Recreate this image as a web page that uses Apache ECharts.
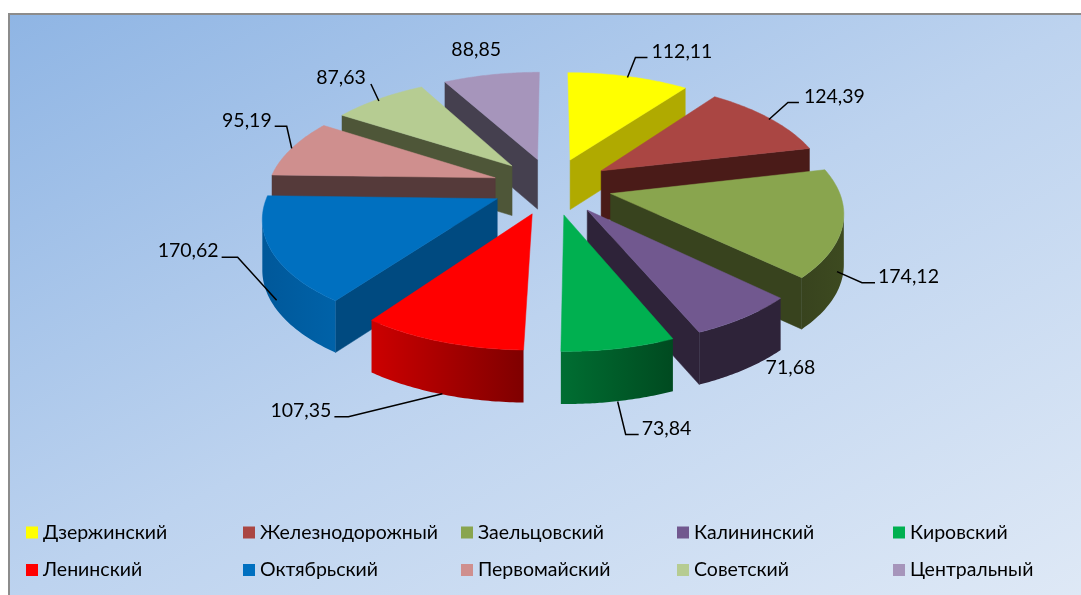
<!DOCTYPE html>
<html><head><meta charset="utf-8">
<style>html,body{margin:0;padding:0;background:#fff}#c{width:1081px;height:595px}</style>
<script src="https://cdn.jsdelivr.net/npm/echarts@6/dist/echarts.min.js"></script>
</head><body><div id="c"></div>
<script>
var categories = ['Дзержинский','Железнодорожный','Заельцовский','Калининский','Кировский','Ленинский','Октябрьский','Первомайский','Советский','Центральный'];
var values = [112.11,124.39,174.12,71.68,73.84,107.35,170.62,95.19,87.63,88.85];
var valueLabels = ['112,11','124,39','174,12','71,68','73,84','107,35','170,62','95,19','87,63','88,85'];

// styles: top face, radial wall, rim gradient (left to right)
var topColors  = ['#ffff00','#aa4643','#89a54e','#71588f','#00b050','#ff0000','#0070c0','#cf8f8e','#b6cc92','#a695bb'];
var wallColors = ['#b0aa00','#4a1b18','#38431e','#2e2339','#006b30','#a00000','#004a80','#553a3a','#4e5638','#45404f'];
var rimColors  = [['#b0aa00','#b0aa00'],['#4a1b18','#4a1b18'],['#38431e','#3d4a20'],['#2e2339','#2e2339'],['#006e32','#004a20'],['#cc0000','#7f0000'],['#00589a','#0062a8'],['#553a3a','#553a3a'],['#4e5638','#4e5638'],['#45404f','#45404f']];
var paintOrder = [9,0,8,1,7,2,6,3,5,4];

// projection of the tilted disc
var CX=552, CY=186, R=227, EXPLODE=60, TILT=0.472, PERSP=0.000644, H=50;
function project(X,Y,down){
  var f=1/(1+PERSP*Y);
  return [CX+X*f, CY-TILT*Y*f+(down?H*Math.pow(f,0.25):0)];
}
var total=values.reduce(function(a,b){return a+b;},0);
function startAngle(i){var s=0;for(var k=0;k<i;k++)s+=values[k];return s/total*2*Math.PI;}
function pt(i,a,r,down){
  var m=(startAngle(i)+startAngle(i)+values[i]/total*2*Math.PI)/2;
  var ox=EXPLODE*Math.sin(m), oy=EXPLODE*Math.cos(m);
  return project(ox+r*Math.sin(a), oy+r*Math.cos(a), down);
}
function area(p){var s=0;for(var i=0;i<p.length;i++){var q=p[(i+1)%p.length];s+=p[i][0]*q[1]-q[0]*p[i][1];}return s;}

// label layout: offset of leader and text from each slice's mid-rim point
var labelLayout = [
 {s:[-1,1], e:[7,-19], f:[19,-19], t:[23,-25],a:'left'},
 {s:[-1,1], e:[18,-16],f:[29,-16], t:[34,-22],a:'left'},
 {s:[-6,48],e:[19,59], f:[32,59],  t:[35,53],a:'left'},
 {t:[46,50],a:'center'},
 {s:[-1,53],e:[7,86],  f:[20,86],  t:[23,80],a:'left'},
 {s:[1,52], e:[-93,75],f:[-107,75],t:[-110,69],a:'right'},
 {s:[5,49], e:[-34,6], f:[-50,6],  t:[-53,0],a:'right'},
 {s:[0,0],  e:[-5,-22],f:[-17,-22],t:[-20,-28],a:'right'},
 {s:[0,2],  e:[-8,-15],t:[-13,-21],a:'right'},
 {t:[-15,-25],a:'center'}
];
var WALL_MIN=1500; // radial walls seen almost edge-on are not drawn

function renderer(i){
  return function(params,api){
    var a0=startAngle(i), a1=a0+api.value(0)/total*2*Math.PI, children=[];
    var A=pt(i,0,0,false),Ad=pt(i,0,0,true);
    var steps=48, top=[A], rimT=[], rimB=[];
    var arc=[];
    for(var k=0;k<=steps;k++){
      var a=a0+(a1-a0)*k/steps;
      arc.push({t:pt(i,a,R,false),b:pt(i,a,R,true)});
      top.push(arc[k].t);
    }
    // radial walls
    var w0=[A,arc[0].t,arc[0].b,Ad], w1=[A,arc[steps].t,arc[steps].b,Ad];
    if(area(w0)<-WALL_MIN) children.push({type:'polygon',shape:{points:w0},style:{fill:wallColors[i],stroke:wallColors[i],lineWidth:0.5}});
    if(area(w1)>WALL_MIN) children.push({type:'polygon',shape:{points:w1},style:{fill:wallColors[i],stroke:wallColors[i],lineWidth:0.5}});
    // rim: keep the part whose screen x runs right-to-left, facing the viewer
    for(k=0;k<steps;k++){
      if(arc[k+1].t[0]<arc[k].t[0]){
        if(!rimT.length){rimT.push(arc[k].t);rimB.push(arc[k].b);}
        rimT.push(arc[k+1].t);rimB.push(arc[k+1].b);
      }
    }
    if(rimT.length>1){
      children.push({type:'polygon',shape:{points:rimT.concat(rimB.slice().reverse())},
        style:{fill:{type:'linear',x:0,y:0,x2:1,y2:0,colorStops:[{offset:0,color:rimColors[i][0]},{offset:1,color:rimColors[i][1]}]}}});
    }
    children.push({type:'polygon',shape:{points:top},style:{fill:topColors[i],stroke:topColors[i],lineWidth:0.5}});
    // label
    var l=labelLayout[i], am=(a0+a1)/2, base=pt(i,am,R,false);
    if(l.s){
      var pts=[[base[0]+l.s[0],base[1]+l.s[1]],[base[0]+l.e[0],base[1]+l.e[1]]];
      if(l.f) pts.push([base[0]+l.f[0],base[1]+l.f[1]]);
      children.push({type:'polyline',shape:{points:pts},style:{stroke:'#000',lineWidth:1.5,fill:null},z2:20});
    }
    children.push({type:'text',x:base[0]+l.t[0],y:base[1]+l.t[1],z2:20,
      style:{text:valueLabels[i],fill:'#000',font:'19.5px Lato, "Open Sans", sans-serif',align:l.a,verticalAlign:'middle'}});
    return {type:'group',children:children};
  };
}

var legendX=[26,243,461,677,893], legendY=[522.5,560];
var series=categories.map(function(name,i){
  return {type:'custom',name:name,coordinateSystem:'none',silent:true,
    z:2+paintOrder.indexOf(i),itemStyle:{color:topColors[i]},
    data:[[values[i]]],renderItem:renderer(i),animation:false};
});
var legends=categories.map(function(name,i){
  return {data:[name],left:legendX[i%5],top:legendY[Math.floor(i/5)],orient:'horizontal',padding:0,
    itemWidth:12,itemHeight:12,itemGap:0,icon:'rect',selectedMode:false,
    textStyle:{color:'#000',fontFamily:'Lato, "Open Sans", sans-serif',fontSize:19.5,padding:[0,0,0,0]}};
});
var chart=echarts.init(document.getElementById('c'),null,{renderer:'canvas'});
chart.setOption({
  animation:false,
  backgroundColor:'#ffffff',
  graphic:{elements:[{type:'rect',z:-10,silent:true,shape:{x:9,y:14,width:1100,height:610},
    style:{stroke:'#8c8c8c',lineWidth:2,
      fill:{type:'linear',x:9,y:14,x2:498,y2:923,global:true,colorStops:[{offset:0,color:'#8fb5e4'},{offset:0.5,color:'#bdd3ef'},{offset:1,color:'#dfe9f6'}]}}}]},
  legend:legends,
  series:series
});
</script></body></html>
